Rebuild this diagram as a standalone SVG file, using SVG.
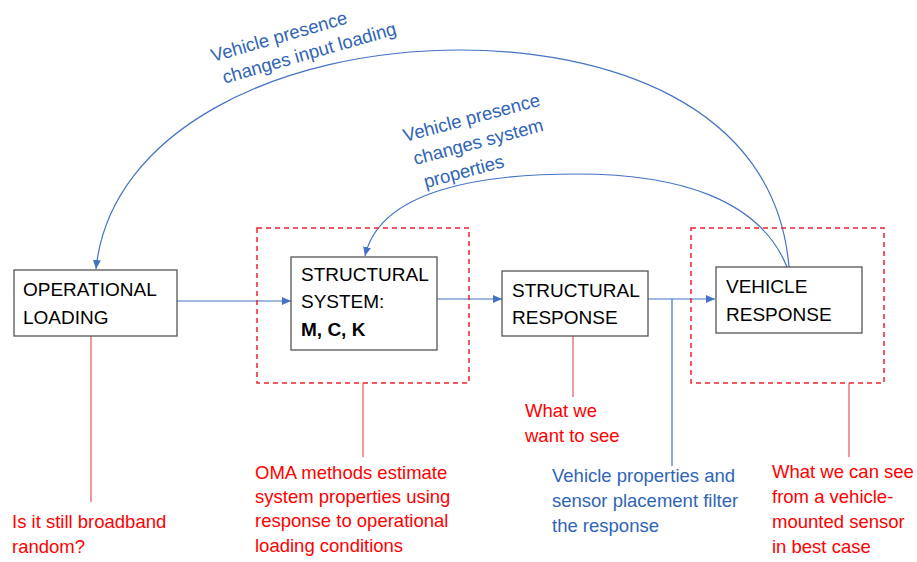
<svg xmlns="http://www.w3.org/2000/svg" width="917" height="562" viewBox="0 0 917 562">
<defs>
<style>
.box{fill:#fff;stroke:#555;stroke-width:1.3}
.dash{fill:none;stroke:#f0202c;stroke-width:1.5;stroke-dasharray:5 4}
.bt{font-family:"Liberation Sans",Arial,sans-serif;font-size:19px;fill:#000}
.blue{fill:none;stroke:#4472c4;stroke-width:1.2}
.red{fill:none;stroke:#e8434f;stroke-width:1.1}
.rt{font-family:"Liberation Sans",Arial,sans-serif;font-size:18.5px;fill:#ff0000}
.lt{font-family:"Liberation Sans",Arial,sans-serif;font-size:18.5px;fill:#2f64b8}
</style>
<marker id="ah" markerUnits="userSpaceOnUse" markerWidth="10" markerHeight="10" viewBox="0 0 10 10" refX="9" refY="5" orient="auto">
<path d="M0,1 L9,5 L0,9 Z" fill="#4472c4"/>
</marker>
</defs>
<rect width="917" height="562" fill="#fff"/>

<g id="connectors">
<line class="blue" x1="177" y1="301" x2="291" y2="301" marker-end="url(#ah)"/>
<line class="blue" x1="437" y1="299" x2="502" y2="299" marker-end="url(#ah)"/>
<line class="blue" x1="648" y1="299" x2="715" y2="299" marker-end="url(#ah)"/>
<line class="blue" x1="672" y1="299" x2="672" y2="466"/>
<path class="blue" d="M789,267 C775,100 600,50 460,50 C280,50 110,130 96,269" marker-end="url(#ah)"/>
<path class="blue" d="M787,267 C760,200 680,174 577,174 C480,174 380,190 365,256" marker-end="url(#ah)"/>
<line class="red" x1="91" y1="336" x2="91" y2="502"/>
<line class="red" x1="363" y1="383" x2="363" y2="457"/>
<line class="red" x1="573" y1="336" x2="573" y2="397"/>
<line class="red" x1="849" y1="383" x2="849" y2="457"/>
</g>

<g id="group-system">
<rect class="dash" x="257" y="228" width="212" height="155"/>
</g>
<g id="group-vehicle">
<rect class="dash" x="691" y="228" width="193" height="155"/>
</g>

<g id="operational-loading">
<rect class="box" x="14" y="270" width="163" height="66"/>
<text class="bt" x="23" y="296">OPERATIONAL</text>
<text class="bt" x="23" y="324">LOADING</text>
</g>

<g id="structural-system">
<rect class="box" x="291" y="257" width="146" height="93"/>
<text class="bt" x="301" y="281">STRUCTURAL</text>
<text class="bt" x="301" y="308">SYSTEM:</text>
<text class="bt" x="301" y="336" font-weight="bold">M, C, K</text>
</g>

<g id="structural-response">
<rect class="box" x="502" y="271" width="146" height="65"/>
<text class="bt" x="512" y="297">STRUCTURAL</text>
<text class="bt" x="512" y="324">RESPONSE</text>
</g>

<g id="vehicle-response">
<rect class="box" x="716" y="267" width="146" height="66"/>
<text class="bt" x="726" y="293">VEHICLE</text>
<text class="bt" x="726" y="321">RESPONSE</text>
</g>

<g id="label-input-loading" transform="translate(213,62) rotate(-16)">
<text class="lt" x="0" y="0">Vehicle presence</text>
<text class="lt" x="5" y="24">changes input loading</text>
</g>

<g id="label-system-properties" transform="translate(405,142) rotate(-15)">
<text class="lt" x="0" y="0">Vehicle presence</text>
<text class="lt" x="4" y="25">changes system</text>
<text class="lt" x="8" y="50">properties</text>
</g>

<g id="note-broadband">
<text class="rt" x="12" y="528">Is it still broadband</text>
<text class="rt" x="12" y="553">random?</text>
</g>

<g id="note-oma">
<text class="rt" x="255" y="479">OMA methods estimate</text>
<text class="rt" x="255" y="503">system properties using</text>
<text class="rt" x="255" y="527">response to operational</text>
<text class="rt" x="255" y="552">loading conditions</text>
</g>

<g id="note-want">
<text class="rt" x="525" y="417">What we</text>
<text class="rt" x="525" y="442">want to see</text>
</g>

<g id="note-filter">
<text class="lt" x="552" y="482">Vehicle properties and</text>
<text class="lt" x="552" y="507">sensor placement filter</text>
<text class="lt" x="552" y="532">the response</text>
</g>

<g id="note-can-see">
<text class="rt" x="772" y="478">What we can see</text>
<text class="rt" x="772" y="503">from a vehicle-</text>
<text class="rt" x="772" y="528">mounted sensor</text>
<text class="rt" x="772" y="553">in best case</text>
</g>
</svg>
